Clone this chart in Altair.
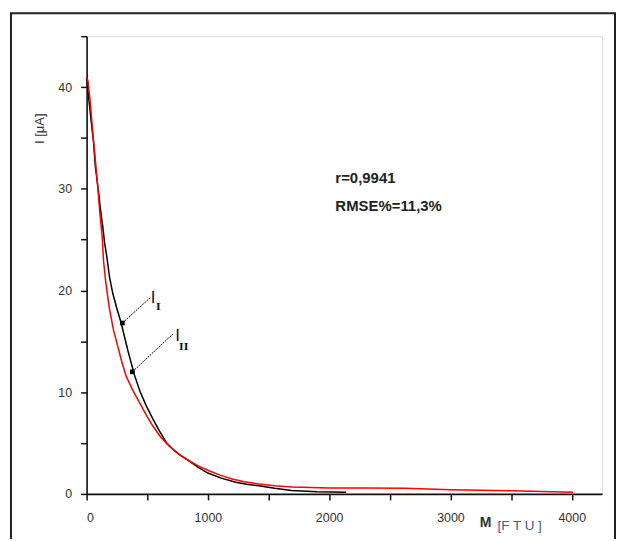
import altair as alt
import pandas as pd

# ---- data ----
black_M = [0, 20, 40, 57, 71, 95, 115, 134, 148, 167, 189, 216, 250, 285, 340, 394, 440, 490, 545, 600, 660, 720, 780, 845, 920, 1000, 1110, 1230, 1320, 1420, 1550, 1690, 1900, 2140]
black_I = [41.0, 38.6, 36.4, 34.6, 32.3, 30.0, 27.9, 26.2, 24.7, 23.3, 21.3, 19.7, 18.2, 16.8, 14.1, 11.7, 10.1, 8.7, 7.4, 6.2, 5.0, 4.3, 3.75, 3.25, 2.6, 2.05, 1.55, 1.14, 0.95, 0.8, 0.55, 0.33, 0.22, 0.17]

red_M = [0, 11, 30, 52, 74, 93, 110, 129, 139, 156, 175, 190, 220, 257, 290, 325, 380, 435, 490, 545, 610, 681, 760, 845, 920, 1009, 1100, 1200, 1300, 1419, 1550, 1690, 1850, 2000, 2300, 2630, 3000, 3500, 4010]
red_I = [41.0, 40.6, 38.5, 35.4, 32.6, 30.0, 27.5, 25.2, 23.0, 21.0, 19.3, 18.1, 16.2, 14.5, 13.0, 11.6, 10.2, 9.0, 7.8, 6.7, 5.6, 4.7, 3.9, 3.26, 2.75, 2.28, 1.85, 1.47, 1.2, 0.98, 0.8, 0.68, 0.62, 0.59, 0.57, 0.55, 0.42, 0.3, 0.17]

x_ticks = [0, 500, 1000, 1500, 2000, 2500, 3000, 3500, 4000]
y_ticks = [0, 5, 10, 15, 20, 25, 30, 35, 40, 45]

stats_text = ["r=0,9941", "RMSE%=11,3%"]
stats_M = [2051, 2051]
stats_I = [30.6, 27.8]

# leader lines for the curve labels
leader_grp = ["a", "a", "b", "b"]
leader_M = [525, 295, 714, 377]
leader_I = [19.3, 16.8, 15.75, 12.0]
dot_M = [295, 377]
dot_I = [16.8, 12.0]

lab_main_M = [529, 730]
lab_main_I = [18.8, 15.0]
lab_sub_text = ["I", "II"]
lab_sub_M = [572, 762]
lab_sub_I = [18.1, 14.1]

# ---- tables ----
black_df = pd.DataFrame({"M": black_M, "I": black_I})
red_df = pd.DataFrame({"M": red_M, "I": red_I})
stats_df = pd.DataFrame({"t": stats_text, "M": stats_M, "I": stats_I})
leader_df = pd.DataFrame({"g": leader_grp, "M": leader_M, "I": leader_I})
dot_df = pd.DataFrame({"M": dot_M, "I": dot_I})
main_df = pd.DataFrame({"M": lab_main_M, "I": lab_main_I})
sub_df = pd.DataFrame({"t": lab_sub_text, "M": lab_sub_M, "I": lab_sub_I})
one = pd.DataFrame({"a": [0]})

xs = alt.Scale(domain=[0, 4250], nice=False, zero=False)
ys = alt.Scale(domain=[0, 45], nice=False, zero=False)

x_axis = alt.Axis(values=x_ticks, title=None,
                  labelExpr="datum.value % 1000 == 0 ? datum.label : ''",
                  labelFont="Liberation Sans", labelFontSize=12.5, labelColor="#333",
                  labelPadding=12, tickSize=6, tickWidth=1.5, tickColor="#111",
                  domainColor="#111", domainWidth=1.6, grid=False, format="d")
y_axis = alt.Axis(values=y_ticks, title=None,
                  labelExpr="(datum.value % 10 == 0 && datum.value <= 40) ? datum.label : ''",
                  labelFont="Liberation Sans", labelFontSize=12.5, labelColor="#333",
                  labelPadding=9, tickSize=6, tickWidth=1.5, tickColor="#111",
                  domainColor="#111", domainWidth=1.6, grid=False)

base_x = alt.X("M:Q", scale=xs, axis=x_axis)
base_y = alt.Y("I:Q", scale=ys, axis=y_axis)

black_line = alt.Chart(black_df).mark_line(color="black", strokeWidth=1.5).encode(
    x=base_x, y=base_y, order="M:Q")
red_line = alt.Chart(red_df).mark_line(color="#ff0000", strokeWidth=1.5).encode(
    x=alt.X("M:Q", scale=xs), y=alt.Y("I:Q", scale=ys), order="M:Q")

stats = alt.Chart(stats_df).mark_text(align="left", baseline="alphabetic",
                                      font="Liberation Sans", fontWeight="bold",
                                      fontSize=15, color="#222").encode(
    x=alt.X("M:Q", scale=xs), y=alt.Y("I:Q", scale=ys), text="t:N")

leaders = alt.Chart(leader_df).mark_line(color="black", strokeWidth=1, strokeDash=[2, 1]).encode(
    x=alt.X("M:Q", scale=xs), y=alt.Y("I:Q", scale=ys), detail="g:N")
dots = alt.Chart(dot_df).mark_point(shape="square", filled=True, color="black", size=22, opacity=1).encode(
    x=alt.X("M:Q", scale=xs), y=alt.Y("I:Q", scale=ys))

main_lab = alt.Chart(main_df).mark_text(text="I", align="left", baseline="alphabetic",
                                        font="Liberation Sans", fontSize=17, color="#111").encode(
    x=alt.X("M:Q", scale=xs), y=alt.Y("I:Q", scale=ys))
sub_lab = alt.Chart(sub_df).mark_text(align="left", baseline="alphabetic",
                                      font="DejaVu Serif", fontWeight="bold", fontSize=10,
                                      color="#111").encode(
    x=alt.X("M:Q", scale=xs), y=alt.Y("I:Q", scale=ys), text="t:N")

x_title_m = alt.Chart(one).mark_text(text="M", align="left", baseline="alphabetic",
                                     font="Liberation Sans", fontWeight="bold", fontSize=14,
                                     color="#333").encode(x=alt.value(395), y=alt.value(493))
x_title_u = alt.Chart(one).mark_text(text="[F T U ]", align="left", baseline="alphabetic",
                                     font="Liberation Sans", fontSize=13.5,
                                     color="#4a5a7a").encode(x=alt.value(413), y=alt.value(496))
y_title = alt.Chart(one).mark_text(text="I  [μA]", align="center", baseline="middle", angle=270,
                                   font="Liberation Sans", fontSize=13,
                                   color="#333").encode(x=alt.value(-47), y=alt.value(93))

frame = alt.Chart(one).mark_rect(fill=None, stroke="#222", strokeWidth=2).encode(
    x=alt.value(-76), x2=alt.value(531), y=alt.value(-23), y2=alt.value(540))

chart = alt.layer(
    frame, black_line, red_line, leaders, dots, main_lab, sub_lab, stats,
    x_title_m, x_title_u, y_title
).properties(
    width=518, height=460,
    autosize=alt.AutoSizeParams(type="none"),
    padding={"left": 79, "top": 27, "right": 14, "bottom": 44},
).configure_view(stroke=None).configure(background="white")

chart.save("out.html", embed_options={"renderer": "svg", "actions": False})
